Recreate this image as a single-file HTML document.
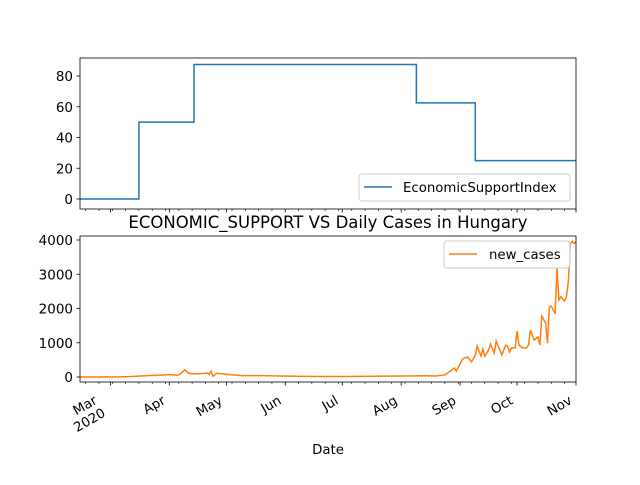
<!DOCTYPE html>
<html><head><meta charset="utf-8"><style>body{margin:0;background:#fff}svg{font-family:"DejaVu Sans","Liberation Sans",sans-serif}</style></head>
<body>
<svg id="c" width="640" height="480" viewBox="0 0 640 480"></svg>
<script>
const monthLabels=["Mar","Apr","May","Jun","Jul","Aug","Sep","Oct","Nov"];
const monthDays=[0,31,61,92,122,153,184,214,245];
const esDays=[-16,15,15,44,44,161,161,192,192,245];
const esVals=[0,0,50,50,87.5,87.5,62.5,62.5,25,25];
const topTicks=[0,20,40,60,80];
const botTicks=[0,1000,2000,3000,4000];
const caseDays=[-16,-5,5,11,16,21,27,32,35,37,39,41,44,48,51,52,53,54,56,61,65,69,80,90,101,112,122,133,144,154,165,171,176,181,182,184,185,186,188,190,192,193,195,196,197,199,200,202,203,206,208,209,210,211,213,214,215,217,219,220,221,223,225,226,227,229,230,231,232,234,235,236,237,239,240,241,242,243,244,245];
const caseVals=[0,2,5,15,30,45,60,70,50,90,210,110,90,100,120,80,170,20,110,80,60,40,40,30,20,15,15,20,25,30,35,30,60,260,175,380,500,550,580,440,640,900,610,820,610,790,960,700,1050,640,930,900,730,850,850,1340,930,850,850,930,1370,1080,1170,930,1780,1580,990,2040,2070,1840,3180,2250,2340,2220,2340,2800,3880,3960,3900,3950];
const svg=document.getElementById('c');const NS='http://www.w3.org/2000/svg';
function mk(t,a,p){const e=document.createElementNS(NS,t);for(const k in a)e.setAttribute(k,a[k]);(p||svg).appendChild(e);return e;}
const X0=80,X1=576,D0=-16,D1=245;const xs=d=>X0+(X1-X0)*(d-D0)/(D1-D0);
const yT=v=>199-v*(199-76)/80;const yB=v=>377-v*(377-240)/4000;
function axes(top,bot,ticks,yf,name){
 const g=mk('g',{});
 ticks.forEach(t=>{const y=yf(t);mk('line',{x1:X0-3.5,x2:X0,y1:y,y2:y,stroke:'#000','stroke-width':0.8},g);
  const tx=mk('text',{x:X0-7,y:y+5,'text-anchor':'end','font-size':13.5},g);tx.textContent=t;});
 for(let d=-13;d<245;d+=7){mk('line',{x1:xs(d),x2:xs(d),y1:bot,y2:bot+2,stroke:'#000','stroke-width':0.6},g);}
 monthDays.forEach(d=>mk('line',{x1:xs(d),x2:xs(d),y1:bot,y2:bot+3.5,stroke:'#000','stroke-width':0.8},g));
 return g;}
const gt=axes(58,209,topTicks,yT,'top-axes');
let p='';esDays.forEach((d,i)=>p+=(i?'L':'M')+xs(d)+','+yT(esVals[i]));
const l1=mk('path',{d:p,fill:'none',stroke:'#1f77b4','stroke-width':1.5});

mk('rect',{x:X0,y:58,width:X1-X0,height:151,fill:'none',stroke:'#000','stroke-width':0.8});
const lg1=mk('g',{});
mk('rect',{x:359,y:174,width:211,height:27,rx:3,fill:'#fff',stroke:'#ccc','fill-opacity':0.8},lg1);
mk('line',{x1:364,x2:392,y1:187,y2:187,stroke:'#1f77b4','stroke-width':1.5},lg1);
const t1=mk('text',{x:403,y:192,'font-size':13.3},lg1);t1.textContent='EconomicSupportIndex';
const gb=axes(236,382,botTicks,yB,'bottom-axes');
p='';caseDays.forEach((d,i)=>p+=(i?'L':'M')+xs(d)+','+yB(caseVals[i]));
const l2=mk('path',{d:p,fill:'none',stroke:'#ff7f0e','stroke-width':1.5});

mk('rect',{x:X0,y:236,width:X1-X0,height:146,fill:'none',stroke:'#000','stroke-width':0.8});
const lg2=mk('g',{});
mk('rect',{x:444,y:241,width:126,height:27,rx:3,fill:'#fff',stroke:'#ccc','fill-opacity':0.8},lg2);
mk('line',{x1:449,x2:477,y1:254,y2:254,stroke:'#ff7f0e','stroke-width':1.5},lg2);
const t2=mk('text',{x:489,y:259,'font-size':13.3},lg2);t2.textContent='new_cases';
monthDays.forEach((d,i)=>{const x=(i===0?X0:xs(d))+(i===0?18:-3),y=403;const t=mk('text',{x:x,y:y,'text-anchor':'end','font-size':13.3,transform:`rotate(-30 ${x} ${y})`});
 t.textContent=monthLabels[i];
 if(i===0){const t3=mk('text',{x:x+1,y:y+15,'text-anchor':'end','font-size':13.3,transform:`rotate(-30 ${x} ${y})`});t3.textContent='2020';}});
const ti=mk('text',{x:328,y:228,'text-anchor':'middle','font-size':16.5});ti.textContent='ECONOMIC_SUPPORT VS Daily Cases in Hungary';
const xl=mk('text',{x:328,y:454,'text-anchor':'middle','font-size':13.3});xl.textContent='Date';
</script>
</body></html>
